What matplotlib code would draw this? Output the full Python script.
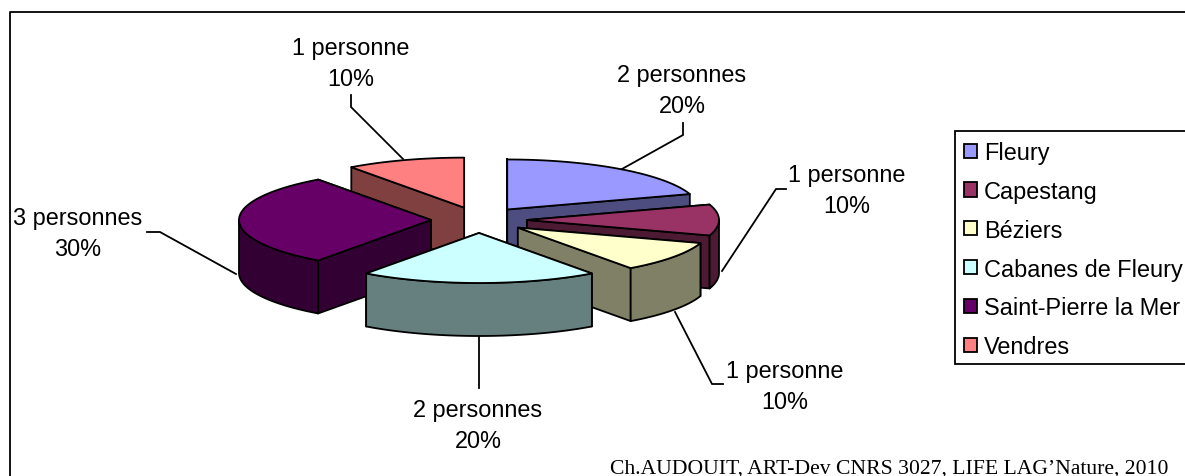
import numpy as np
import matplotlib
matplotlib.use("Agg")
import matplotlib.pyplot as plt
from matplotlib.patches import Patch, Rectangle

places = ["Fleury", "Capestang", "Béziers", "Cabanes de Fleury", "Saint-Pierre la Mer", "Vendres"]
persons = [2, 1, 1, 2, 3, 1]
colors = ["#9999FF", "#993366", "#FFFFCC", "#CCFFFF", "#660066", "#FF8080"]
credit = "Ch.AUDOUIT, ART-Dev CNRS 3027, LIFE LAG’Nature, 2010"

# label centres and leader lines, in pixels
label_pos = [(682, 91), (847, 191), (785, 387), (478, 426), (78, 234), (351, 64)]
leaders = [
    [(622, 170), (683, 136), (683, 124)],
    [(722, 272), (776, 190), (786, 190)],
    [(675, 313), (712, 385), (723, 385)],
    [(479, 338), (479, 389)],
    [(236, 275), (160, 233), (147, 233)],
    [(403, 160), (351, 108), (351, 96)],
]

# pie geometry, in pixels
cx, cy = 479, 221
rx, ry = 192, 50
ex, ey = 48, 13
depth = 53
lw = 1.3

plt.rcParams['font.family'] = ['Liberation Sans', 'DejaVu Sans']

fig = plt.figure(figsize=(11.85, 4.77), dpi=100)
ax = fig.add_axes([0, 0, 1, 1])
ax.set_xlim(0, 1185)
ax.set_ylim(477, 0)
ax.axis("off")

# chart frame
ax.plot([10, 10, 1185], [477, 13, 13], color="black", lw=lw)


def rim(a0, a1, ax0, ay0):
    # points on the ellipse, angle clockwise from the top
    t = np.radians(np.linspace(a0, a1, 80))
    return ax0 + rx * np.sin(t), ay0 - ry * np.cos(t)


total = sum(persons)
edges = np.cumsum([0] + persons) * 360.0 / total
mids = (edges[:-1] + edges[1:]) / 2

# back slices first
order = sorted(range(len(persons)), key=lambda i: -np.cos(np.radians(mids[i])))

for i in order:
    a0, a1 = edges[i], edges[i + 1]
    m = np.radians(mids[i])
    px = cx + ex * np.sin(m)
    py = cy - ey * np.cos(m)
    side = tuple(c * 0.5 for c in matplotlib.colors.to_rgb(colors[i]))

    # flat cut walls, the one further back first
    for a in sorted([a0, a1], key=lambda v: -np.cos(np.radians(v))):
        ex_x = px + rx * np.sin(np.radians(a))
        ex_y = py - ry * np.cos(np.radians(a))
        ax.fill([px, ex_x, ex_x, px], [py, ex_y, ex_y + depth, py + depth],
                facecolor=side, edgecolor="black", lw=lw, joinstyle="round")

    # outer wall, only the part that faces the viewer
    f0, f1 = max(a0, 90), min(a1, 270)
    if f1 > f0:
        x, y = rim(f0, f1, px, py)
        ax.fill(np.r_[x, x[::-1]], np.r_[y, y[::-1] + depth],
                facecolor=side, edgecolor="black", lw=lw, joinstyle="round")

    # top
    x, y = rim(a0, a1, px, py)
    ax.fill(np.r_[px, x], np.r_[py, y], facecolor=colors[i], edgecolor="black",
            lw=lw, joinstyle="round")

for i, n in enumerate(persons):
    word = "personne" if n == 1 else "personnes"
    pct = 100 * n / total
    ax.text(label_pos[i][0], label_pos[i][1], f"{n} {word}\n{pct:.0f}%",
            ha="center", va="center", fontsize=16.9, linespacing=1.45)
    xs, ys = zip(*leaders[i])
    ax.plot(xs, ys, color="black", lw=lw, solid_joinstyle="miter")

# legend box drawn apart so it can sit tight against the rows
ax.add_patch(Rectangle((955, 132), 240, 233, facecolor="white", edgecolor="black", lw=lw))
handles = [Patch(facecolor=c, edgecolor="black", lw=lw) for c in colors]
leg = ax.legend(handles, places, loc="upper left", bbox_to_anchor=(964 / 1185, 1 - 142 / 477),
                borderaxespad=0, fontsize=16.9, frameon=False, handlelength=0.55,
                handleheight=0.55, handletextpad=0.3, labelspacing=0.675, borderpad=0)

ax.text(889, 474, credit, ha="center", va="baseline", fontsize=15.6, family="Liberation Serif")

fig.savefig("out.png", dpi=100)
